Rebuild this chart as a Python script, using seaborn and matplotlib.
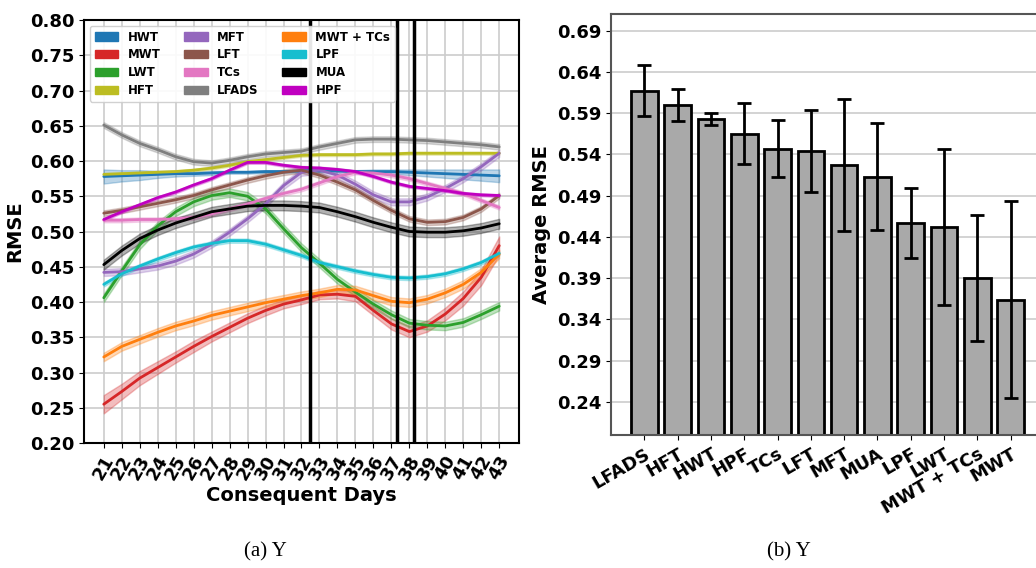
import numpy as np
import pandas as pd
import matplotlib
matplotlib.use("Agg")
import matplotlib.pyplot as plt
import seaborn as sns
from matplotlib.patches import Patch

# ---------------- data ----------------
days = list(range(21, 44))

methods = ["HWT", "MWT", "LWT", "HFT", "MFT", "LFT", "TCs", "LFADS",
           "MWT + TCs", "LPF", "MUA", "HPF"]
colors = ["#1f77b4", "#d62728", "#2ca02c", "#bcbd22", "#9467bd", "#8c564b",
          "#e377c2", "#7f7f7f", "#ff7f0e", "#17becf", "#000000", "#c000c0"]

hwt = [0.578, 0.579, 0.580, 0.581, 0.582, 0.582, 0.583, 0.584, 0.584, 0.585, 0.585, 0.586,
       0.586, 0.586, 0.585, 0.585, 0.585, 0.584, 0.583, 0.582, 0.581, 0.580, 0.579]
mwt = [0.255, 0.273, 0.292, 0.307, 0.322, 0.337, 0.351, 0.364, 0.377, 0.388, 0.397, 0.403,
       0.410, 0.411, 0.408, 0.388, 0.369, 0.358, 0.366, 0.383, 0.405, 0.435, 0.480]
lwt = [0.406, 0.444, 0.481, 0.508, 0.528, 0.542, 0.551, 0.555, 0.550, 0.532, 0.504, 0.477,
       0.455, 0.432, 0.414, 0.397, 0.382, 0.370, 0.367, 0.366, 0.371, 0.382, 0.394]
hft = [0.581, 0.582, 0.583, 0.584, 0.585, 0.587, 0.590, 0.594, 0.599, 0.602, 0.605, 0.608,
       0.609, 0.609, 0.609, 0.610, 0.610, 0.611, 0.611, 0.611, 0.611, 0.611, 0.611]
mft = [0.442, 0.443, 0.447, 0.451, 0.458, 0.468, 0.482, 0.499, 0.518, 0.539, 0.565, 0.584,
       0.587, 0.580, 0.567, 0.552, 0.542, 0.542, 0.549, 0.561, 0.575, 0.592, 0.611]
lft = [0.526, 0.530, 0.535, 0.540, 0.545, 0.551, 0.559, 0.566, 0.573, 0.579, 0.584, 0.587,
       0.580, 0.570, 0.559, 0.544, 0.530, 0.518, 0.513, 0.514, 0.520, 0.532, 0.551]
tcs = [0.516, 0.516, 0.517, 0.517, 0.518, 0.520, 0.525, 0.532, 0.539, 0.547, 0.554, 0.560,
       0.569, 0.578, 0.584, 0.583, 0.580, 0.575, 0.568, 0.561, 0.554, 0.544, 0.534]
lfads = [0.651, 0.637, 0.625, 0.616, 0.606, 0.599, 0.597, 0.601, 0.606, 0.610, 0.612, 0.614,
         0.620, 0.625, 0.630, 0.631, 0.631, 0.630, 0.629, 0.627, 0.625, 0.623, 0.620]
mwt_tcs = [0.322, 0.337, 0.347, 0.357, 0.366, 0.373, 0.381, 0.387, 0.393, 0.399, 0.404, 0.409,
           0.413, 0.418, 0.417, 0.409, 0.401, 0.399, 0.404, 0.413, 0.425, 0.442, 0.468]
lpf = [0.425, 0.440, 0.451, 0.461, 0.470, 0.478, 0.483, 0.487, 0.487, 0.482, 0.474, 0.466,
       0.456, 0.450, 0.444, 0.439, 0.435, 0.434, 0.436, 0.440, 0.447, 0.456, 0.469]
mua = [0.453, 0.473, 0.490, 0.502, 0.512, 0.520, 0.528, 0.532, 0.536, 0.537, 0.537, 0.536,
       0.534, 0.528, 0.521, 0.513, 0.506, 0.500, 0.499, 0.499, 0.501, 0.505, 0.511]
hpf = [0.517, 0.528, 0.538, 0.548, 0.556, 0.566, 0.575, 0.587, 0.598, 0.598, 0.594, 0.591,
       0.590, 0.588, 0.585, 0.578, 0.570, 0.564, 0.561, 0.558, 0.554, 0.552, 0.551]

series = [hwt, mwt, lwt, hft, mft, lft, tcs, lfads, mwt_tcs, lpf, mua, hpf]

# half-width of the shaded spread around each curve
hwt_spread = [0.010, 0.008, 0.007, 0.005, 0.004, 0.003, 0.003, 0.002, 0.002, 0.002, 0.002, 0.002,
              0.002, 0.002, 0.002, 0.003, 0.003, 0.004, 0.005, 0.006, 0.007, 0.008, 0.009]
mwt_spread = [0.013, 0.011, 0.010, 0.009, 0.008, 0.008, 0.007, 0.007, 0.007, 0.007, 0.006, 0.006,
              0.006, 0.006, 0.007, 0.007, 0.008, 0.008, 0.008, 0.009, 0.010, 0.011, 0.013]
spread = [hwt_spread, mwt_spread, 0.006, 0.002, 0.005, 0.004, 0.003, 0.004,
          0.006, 0.003, 0.007, 0.002]

marker_days = [32.5, 37.3, 38.25]

bar_methods = ["LFADS", "HFT", "HWT", "HPF", "TCs", "LFT", "MFT", "MUA",
               "LPF", "LWT", "MWT + TCs", "MWT"]
avg_rmse = [0.617, 0.600, 0.583, 0.565, 0.547, 0.544, 0.527, 0.513,
            0.457, 0.452, 0.390, 0.364]
avg_err = [0.031, 0.0195, 0.007, 0.037, 0.034, 0.050, 0.080, 0.0645,
           0.042, 0.095, 0.076, 0.1195]

# ---------------- long-form table for the line panel ----------------
rows = []
for name, vals, sp in zip(methods, series, spread):
    sp_arr = np.broadcast_to(np.asarray(sp, dtype=float), (len(days),))
    for d, v, h in zip(days, vals, sp_arr):
        for off in (-h, 0.0, h):
            rows.append({"day": d, "rmse": v + off, "method": name})
df = pd.DataFrame(rows)

# ---------------- style ----------------
sns.set_style("whitegrid")
plt.rcParams.update({
    "font.family": ["DejaVu Sans"],
    "font.weight": "bold",
    "axes.labelweight": "bold",
    "axes.labelcolor": "black",
    "text.color": "black",
    "grid.color": "#cccccc",
    "grid.linewidth": 1.2,
    "xtick.bottom": True,
    "ytick.left": True,
    "xtick.major.size": 3.5,
    "ytick.major.size": 3.5,
    "xtick.color": "black",
    "ytick.color": "black",
})

fig = plt.figure(figsize=(10.36, 5.68), dpi=100)
W, H = 1036, 568
ax1 = fig.add_axes([84 / W, 1 - 443 / H, (519 - 84) / W, (443 - 20) / H])
ax2 = fig.add_axes([611 / W, 1 - 435 / H, (1044 - 611) / W, (435 - 14) / H])

# ---------------- (a) RMSE over consequent days ----------------
palette = dict(zip(methods, colors))
sns.lineplot(data=df, x="day", y="rmse", hue="method", hue_order=methods,
             palette=palette, estimator="mean", errorbar=("pi", 100),
             linewidth=2, legend=False, err_kws={"alpha": 0.3}, ax=ax1)
for xd in marker_days:
    ax1.axvline(xd, color="black", linewidth=2.5, zorder=5)

ax1.set_xlim(19.9, 44.1)
ax1.set_ylim(0.20, 0.80)
ax1.set_xticks(days)
ax1.set_xticklabels([str(d) for d in days], rotation=60, ha="center",
                    fontsize=13, fontweight="bold")
yt = np.round(np.arange(0.20, 0.801, 0.05), 2)
ax1.set_yticks(yt)
ax1.set_yticklabels([f"{v:.2f}" for v in yt], fontsize=13, fontweight="bold")
ax1.set_xlabel("Consequent Days", fontsize=14, fontweight="bold", labelpad=2)
ax1.set_ylabel("RMSE", fontsize=14, fontweight="bold")
for s in ax1.spines.values():
    s.set_color("black")
    s.set_linewidth(1.5)

handles = [Patch(facecolor=c, edgecolor=c, label=m) for m, c in zip(methods, colors)]
ax1.legend(handles=handles, loc="upper left", ncol=3, frameon=True,
           prop={"weight": "bold", "size": 8.5}, labelspacing=0.4,
           columnspacing=2.0, handlelength=2.0, borderaxespad=0.5,
           fancybox=True, framealpha=0.9, edgecolor="#cccccc")

# ---------------- (b) average RMSE per method ----------------
sns.barplot(x=bar_methods, y=avg_rmse, color="darkgray", saturation=1,
            edgecolor="black", linewidth=2, width=0.8, ax=ax2, zorder=2)
ax2.errorbar(np.arange(len(bar_methods)), avg_rmse, yerr=avg_err, fmt="none",
             ecolor="black", elinewidth=2, capsize=5, capthick=2, zorder=3)
ax2.set_xlim(-1, 12)
ax2.set_ylim(0.20, 0.71)
yt2 = np.round(np.arange(0.24, 0.70, 0.05), 2)
ax2.set_yticks(yt2)
ax2.set_yticklabels([f"{v:.2f}" for v in yt2], fontsize=13, fontweight="bold")
ax2.set_xticks(np.arange(len(bar_methods)))
ax2.set_xticklabels(bar_methods, rotation=30, ha="right", rotation_mode="anchor",
                    fontsize=13, fontweight="bold")
ax2.set_xlabel("")
ax2.set_ylabel("Average RMSE", fontsize=14, fontweight="bold")
for s in ax2.spines.values():
    s.set_color("#555555")
    s.set_linewidth(1.5)

# ---------------- captions ----------------
fig.text(265 / W, 1 - 552 / H, "(a) Y", family="Liberation Serif",
         fontsize=15, fontweight="normal", ha="center", va="center")
fig.text(789 / W, 1 - 552 / H, "(b) Y", family="Liberation Serif",
         fontsize=15, fontweight="normal", ha="center", va="center")

fig.savefig("out.png", dpi=100)
